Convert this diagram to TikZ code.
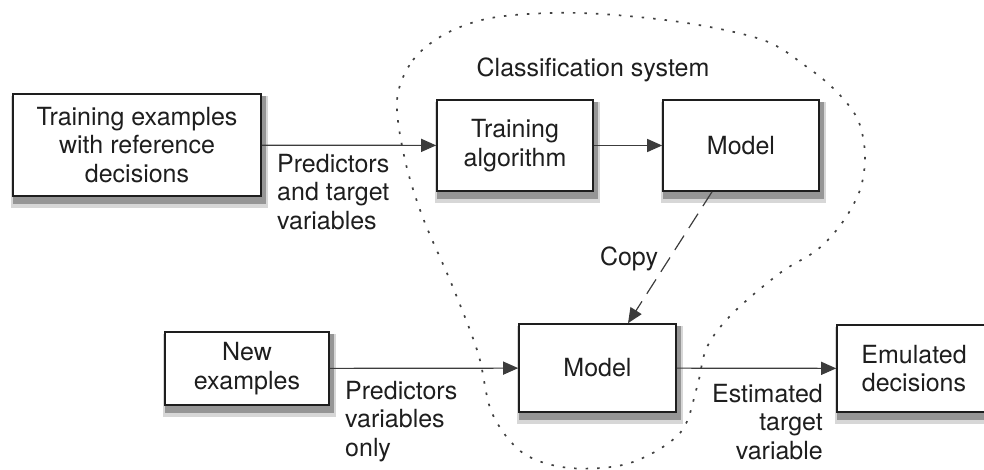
\documentclass[tikz,border=0pt]{standalone}
\usepackage{fontspec}
\setmainfont{TeX Gyre Heros}
\usetikzlibrary{arrows.meta,backgrounds}
\definecolor{edge}{RGB}{60,60,60}
\definecolor{ink}{RGB}{30,30,30}
\definecolor{shadowgray}{RGB}{150,150,150}
\definecolor{hazegray}{RGB}{215,215,215}

\tikzset{
  box/.style={draw=ink, line width=1.6pt, fill=white, align=center, inner sep=0pt},
  lbl/.style={inner sep=0pt, text=ink},
  flow/.style={draw=edge, line width=1.2pt, -{Triangle[length=15pt,width=13pt]}},
  blob/.style={draw=black!75, line width=1.7pt, dash pattern=on 2.5pt off 9pt},
  haze/.style={fill=hazegray},
  boxshadow/.style={fill=shadowgray},
}

\begin{document}
\begin{tikzpicture}[x=1pt, y=-1pt, font=\fontsize{25}{28.5}\selectfont, text=ink]
                \useasboundingbox (0,0) rectangle (984,470);

                % Classification system outline
                \draw[blob] plot[smooth cycle, tension=0.55] coordinates {
                    (397,100) (413,60) (447,33) (497,17) (580,13) (680,22) (763,40)
                    (807,67) (837,92) (858,120) (865,155) (860,190) (842,223) (817,250)
                    (780,273) (733,313) (707,347) (697,387) (680,433) (630,463) (570,468)
                    (523,453) (492,413) (478,353) (452,285) (423,218) (405,160)};
                \node[lbl, anchor=north] (system) at (593,58) {Classification system};

                % Nodes
                \node[box, minimum width=248pt, minimum height=102pt] (trainex) at (137,145) {Training examples\\with reference\\decisions};
                \node[box, minimum width=156pt, minimum height=91pt] (trainalg) at (515,145.5) {Training\\algorithm};
                \node[box, minimum width=156pt, minimum height=91pt] (model1) at (741,145.5) {Model};
                \node[box, minimum width=164pt, minimum height=73pt] (newex) at (247,368.5) {New\\examples};
                \node[box, minimum width=157pt, minimum height=88pt] (model2) at (597.5,368) {Model};
                \node[box, minimum width=154pt, minimum height=87pt] (emul) at (914,368.5) {Emulated\\decisions};

                % Shadows under the boxes
                \begin{scope}[on background layer]
                    \foreach \b in {trainex,trainalg,model1,newex,model2,emul} {
                        \fill[haze] ([shift={(-1pt,-11pt)}]\b.south west) rectangle ([shift={(6pt,-3pt)}]\b.north east);
                        \fill[boxshadow] ([shift={(1pt,-7pt)}]\b.south west) rectangle ([shift={(4pt,-3pt)}]\b.north east);
                    }
                \end{scope}

                % Edges
                \draw[flow] (trainex) -- (trainalg);
                \draw[flow] (trainalg) -- (model1);
                \draw[flow, dash pattern=on 17pt off 9pt] ([xshift=-29pt]model1.south) -- ([xshift=30.5pt]model2.north);
                \draw[flow] (newex) -- (model2);
                \draw[flow] (model2) -- (emul);

                % Edge labels
                \node[lbl, anchor=north west, align=left] (inputs) at (277,154) {Predictors\\and target\\variables};
                \node[lbl, anchor=north] (copy) at (629,247) {Copy};
                \node[lbl, anchor=north west, align=left] (newinputs) at (345,381) {Predictors\\variables\\only};
                \node[lbl, anchor=north east, align=right] (estimate) at (823,384) {Estimated\\target\\variable};
            \end{tikzpicture}
\end{document}
